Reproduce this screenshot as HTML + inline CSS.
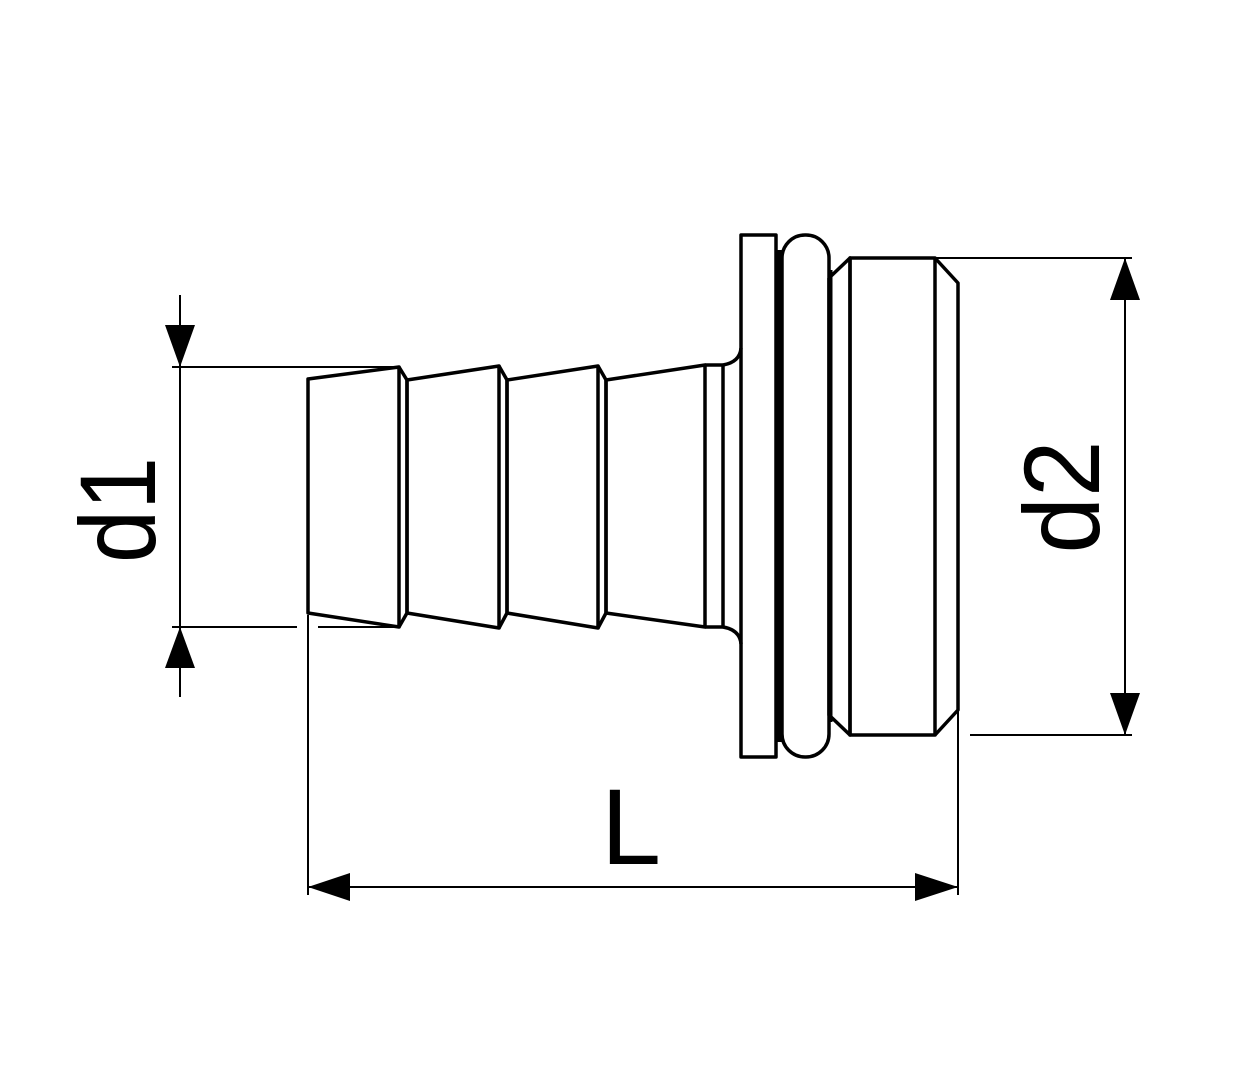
<!DOCTYPE html>
<html><head><meta charset="utf-8"><style>html,body{margin:0;padding:0;background:#fff;}svg{display:block}</style></head>
<body>
<svg width="1260" height="1080" viewBox="0 0 1260 1080" xmlns="http://www.w3.org/2000/svg">
<g fill="none" stroke="#000" stroke-width="3.5" stroke-linejoin="round">
 <polygon points="308,379 399,367 399,627 308,613"/>
 <polyline points="399,367 407,380 407,613 399,627"/>
 <polygon points="407,380 499,366 499,628 407,613"/>
 <polyline points="499,366 507,380 507,613 499,628"/>
 <polygon points="507,380 598,366 598,628 507,613"/>
 <polyline points="598,366 606,380 606,613 598,628"/>
 <polygon points="606,380 705,365 705,627 606,613"/>
 <line x1="705" y1="365" x2="723" y2="365"/>
 <line x1="705" y1="627" x2="723" y2="627"/>
 <line x1="723" y1="365" x2="723" y2="627"/>
 <path d="M723,365 Q740,362 741,348"/>
 <path d="M723,627 Q740,630 741,644"/>
 <rect x="741" y="235" width="35" height="522"/>
 <line x1="779" y1="250" x2="779" y2="742" stroke-width="5"/>
 <rect x="782" y="235" width="47" height="522" rx="23" ry="23"/>
 <line x1="830" y1="270" x2="830" y2="722" stroke-width="5"/>
 <polyline points="829,278 850,258 850,735 829,715 829,278"/>
 <rect x="850" y="258" width="85" height="477"/>
 <polyline points="935,258 958,283 958,710 935,735"/>
</g>
<g fill="none" stroke="#000" stroke-width="2">
 <line x1="180" y1="295" x2="180" y2="697"/>
 <line x1="172" y1="367" x2="400" y2="367"/>
 <line x1="172" y1="627" x2="297" y2="627"/>
 <line x1="318" y1="627" x2="400" y2="627"/>
 <line x1="308" y1="615" x2="308" y2="895"/>
 <line x1="935" y1="258" x2="1132" y2="258"/>
 <line x1="970" y1="735" x2="1132" y2="735"/>
 <line x1="1125" y1="258" x2="1125" y2="735"/>
 <line x1="308" y1="887" x2="958" y2="887"/>
 <line x1="958" y1="710" x2="958" y2="895"/>
</g>
<g fill="#000">
 <polygon points="180,367 165,325 195,325"/>
 <polygon points="180,627 165,668 195,668"/>
 <polygon points="1125,258 1110,300 1140,300"/>
 <polygon points="1125,735 1110,693 1140,693"/>
 <polygon points="308,887 350,873 350,901"/>
 <polygon points="958,887 915,873 915,901"/>
</g>
<g font-family="Liberation Sans, Arial, sans-serif" font-size="108" fill="#000">
 <text transform="translate(155,510) rotate(-90)" text-anchor="middle" textLength="106" lengthAdjust="spacingAndGlyphs">d1</text>
 <text transform="translate(1099,497) rotate(-90)" text-anchor="middle" textLength="113" lengthAdjust="spacingAndGlyphs">d2</text>
 <text x="601" y="864">L</text>
</g>
</svg>
</body></html>
